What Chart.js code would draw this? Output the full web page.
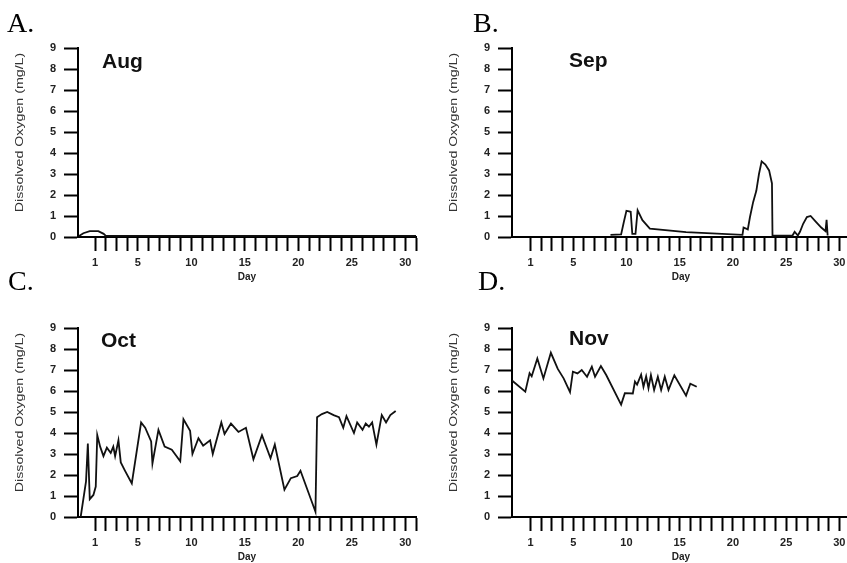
<!DOCTYPE html>
<html>
<head>
<meta charset="utf-8">
<script src="https://cdn.jsdelivr.net/npm/chart.js@4.4.1/dist/chart.umd.min.js"></script>
<style>
  body { margin: 0; width: 847px; height: 563px; overflow: hidden; background: #fff; position: relative; }
  .panel { position: absolute; width: 430px; height: 283px; }
  .letter { position: absolute; font-family: "Liberation Serif", "Times New Roman", serif; font-size: 28px; line-height: 1; color: #000; }
  .month { position: absolute; font-family: "Liberation Sans", Arial, sans-serif; font-weight: bold; font-size: 21px; line-height: 1; color: #111; }
</style>
</head>
<body>
<div class="panel" style="left:0;top:0"><canvas id="augChart"></canvas></div>
<div class="panel" style="left:434px;top:0"><canvas id="sepChart"></canvas></div>
<div class="panel" style="left:0;top:280px"><canvas id="octChart"></canvas></div>
<div class="panel" style="left:434px;top:280px"><canvas id="novChart"></canvas></div>

<div class="letter" style="left:7px;top:9px">A.</div>
<div class="letter" style="left:473px;top:9px">B.</div>
<div class="letter" style="left:8px;top:267px">C.</div>
<div class="letter" style="left:478px;top:267px">D.</div>

<div class="month" style="left:102px;top:50px">Aug</div>
<div class="month" style="left:569px;top:49px">Sep</div>
<div class="month" style="left:101px;top:329px">Oct</div>
<div class="month" style="left:569px;top:327px">Nov</div>

<script>
// tick positions and labels
const dayTicks = [1, 2, 3, 4, 5, 6, 7, 8, 9, 10, 11, 12, 13, 14, 15, 16, 17, 18, 19, 20, 21, 22, 23, 24, 25, 26, 27, 28, 29, 30, 31];
const dayLabels = [1, 5, 10, 15, 20, 25, 30];
const oxygenTicks = [0, 1, 2, 3, 4, 5, 6, 7, 8, 9];
const yTitle = 'Dissolved Oxygen (mg/L)';

// Aug
const augDays = [-0.5, -0.1, 0.5, 1.3, 1.8, 2.0, 31];
const augOxygen = [0.05, 0.18, 0.28, 0.28, 0.15, 0.05, 0.05];

// Sep
const sepDays = [8.5, 9.5, 9.75, 10.0, 10.4, 10.55, 10.85, 11.05, 11.5, 12.2, 15.6, 20.9, 21.0, 21.4, 21.6, 21.9, 22.2, 22.45, 22.7, 23.05, 23.4, 23.67, 23.72, 25.6, 25.8, 26.1, 26.3, 26.6, 26.95, 27.3, 27.8, 28.3, 28.7, 28.8, 28.9];
const sepOxygen = [0.1, 0.12, 0.7, 1.25, 1.2, 0.15, 0.15, 1.27, 0.8, 0.4, 0.23, 0.1, 0.45, 0.36, 0.94, 1.66, 2.2, 3.0, 3.6, 3.45, 3.17, 2.55, 0.07, 0.07, 0.25, 0.07, 0.25, 0.63, 0.95, 1.0, 0.72, 0.45, 0.28, 0.82, 0.07];

// Oct
const octDays = [-0.35, 0.15, 0.32, 0.5, 0.84, 1.06, 1.2, 1.47, 1.78, 2.1, 2.46, 2.7, 2.87, 3.18, 3.4, 3.8, 4.43, 5.3, 5.68, 6.24, 6.36, 6.92, 7.5, 8.17, 8.96, 9.26, 9.88, 10.1, 10.66, 11.1, 11.75, 12.0, 12.8, 13.1, 13.7, 14.4, 15.1, 15.8, 16.6, 17.4, 17.8, 18.7, 19.3, 19.9, 20.2, 21.6, 21.75, 22.2, 22.7, 23.3, 23.8, 24.2, 24.5, 25.2, 25.5, 26.0, 26.3, 26.6, 26.9, 27.3, 27.8, 28.2, 28.6, 29.1];
const octOxygen = [0.0, 1.7, 3.5, 0.85, 1.05, 1.45, 3.9, 3.35, 2.9, 3.3, 3.05, 3.35, 2.9, 3.65, 2.6, 2.2, 1.6, 4.5, 4.25, 3.6, 2.55, 4.15, 3.35, 3.2, 2.65, 4.65, 4.1, 3.0, 3.75, 3.4, 3.65, 3.0, 4.5, 3.95, 4.45, 4.05, 4.25, 2.75, 3.9, 2.8, 3.45, 1.3, 1.85, 1.95, 2.2, 0.25, 4.75, 4.9, 5.0, 4.85, 4.75, 4.25, 4.8, 4.0, 4.5, 4.15, 4.45, 4.3, 4.5, 3.45, 4.85, 4.5, 4.85, 5.05];

// Nov
const novDays = [-0.75, 0.5, 0.9, 1.1, 1.63, 2.2, 2.9, 3.55, 4.1, 4.7, 4.97, 5.4, 5.8, 6.3, 6.75, 7.05, 7.6, 8.1, 9.5, 9.85, 10.6, 10.8, 11.0, 11.38, 11.6, 11.85, 12.07, 12.3, 12.6, 12.95, 13.26, 13.6, 13.95, 14.5, 15.6, 16.0, 16.6];
const novOxygen = [6.5, 5.97, 6.85, 6.7, 7.55, 6.6, 7.82, 7.05, 6.6, 5.95, 6.92, 6.84, 7.0, 6.68, 7.16, 6.68, 7.19, 6.76, 5.35, 5.9, 5.88, 6.45, 6.3, 6.78, 6.2, 6.7, 6.13, 6.76, 6.05, 6.68, 6.05, 6.68, 6.05, 6.75, 5.78, 6.35, 6.2];

const sans = '"Liberation Sans", Arial, sans-serif';

// y title drawn a bit above centre and stretched along its length, like the scan
const yTitlePlugin = {
    id: 'yTitle',
    afterDraw(chart) {
        const { ctx, chartArea } = chart;
        ctx.save();
        ctx.translate(chartArea.left - 58, (chartArea.top + chartArea.bottom) / 2 - 10);
        ctx.rotate(-Math.PI / 2);
        ctx.scale(1.42, 1);
        ctx.font = '10px ' + sans;
        ctx.fillStyle = '#333';
        ctx.textAlign = 'center';
        ctx.textBaseline = 'middle';
        ctx.fillText(yTitle, 0, 0);
        ctx.restore();
    }
};

function makePanel(id, days, values, xMin) {
    new Chart(document.getElementById(id), {
        type: 'line',
        data: {
            datasets: [{
                data: days.map((d, i) => ({ x: d, y: values[i] })),
                borderColor: '#111',
                borderWidth: 1.8,
                pointRadius: 0,
                tension: 0,
                fill: false
            }]
        },
        options: {
            animation: false,
            responsive: true,
            maintainAspectRatio: false,
            layout: { padding: { top: 48, left: 6, right: 14, bottom: 0 } },
            plugins: { legend: { display: false }, tooltip: { enabled: false } },
            scales: {
                x: {
                    type: 'linear',
                    min: xMin,
                    max: 31,
                    afterBuildTicks: s => { s.ticks = dayTicks.map(v => ({ value: v })); },
                    afterFit: s => { s.height = 46; },
                    grid: { drawOnChartArea: false, drawTicks: true, tickLength: 14, tickWidth: 2, tickColor: '#000' },
                    border: { display: true, color: '#000', width: 2 },
                    ticks: {
                        autoSkip: false, maxRotation: 0, padding: 5, color: '#222',
                        font: { family: sans, size: 11, weight: 'bold' },
                        callback: v => dayLabels.includes(v) ? String(v) : ''
                    },
                    title: { display: true, text: 'Day', color: '#222', font: { family: sans, size: 10, weight: 'bold' }, padding: 0 }
                },
                y: {
                    min: 0,
                    max: 9,
                    afterBuildTicks: s => { s.ticks = oxygenTicks.map(v => ({ value: v })); },
                    afterFit: s => { s.width = 72; },
                    grid: { drawOnChartArea: false, drawTicks: true, tickLength: 14, tickWidth: 2, tickColor: '#000' },
                    border: { display: true, color: '#000', width: 2 },
                    ticks: { padding: 8, color: '#222', font: { family: sans, size: 11, weight: 'bold' } },
                    title: { display: false }
                }
            }
        },
        plugins: [yTitlePlugin]
    });
}

makePanel('augChart', augDays, augOxygen, -0.6);
makePanel('sepChart', sepDays, sepOxygen, -0.75);
makePanel('octChart', octDays, octOxygen, -0.6);
makePanel('novChart', novDays, novOxygen, -0.75);
</script>
</body>
</html>
